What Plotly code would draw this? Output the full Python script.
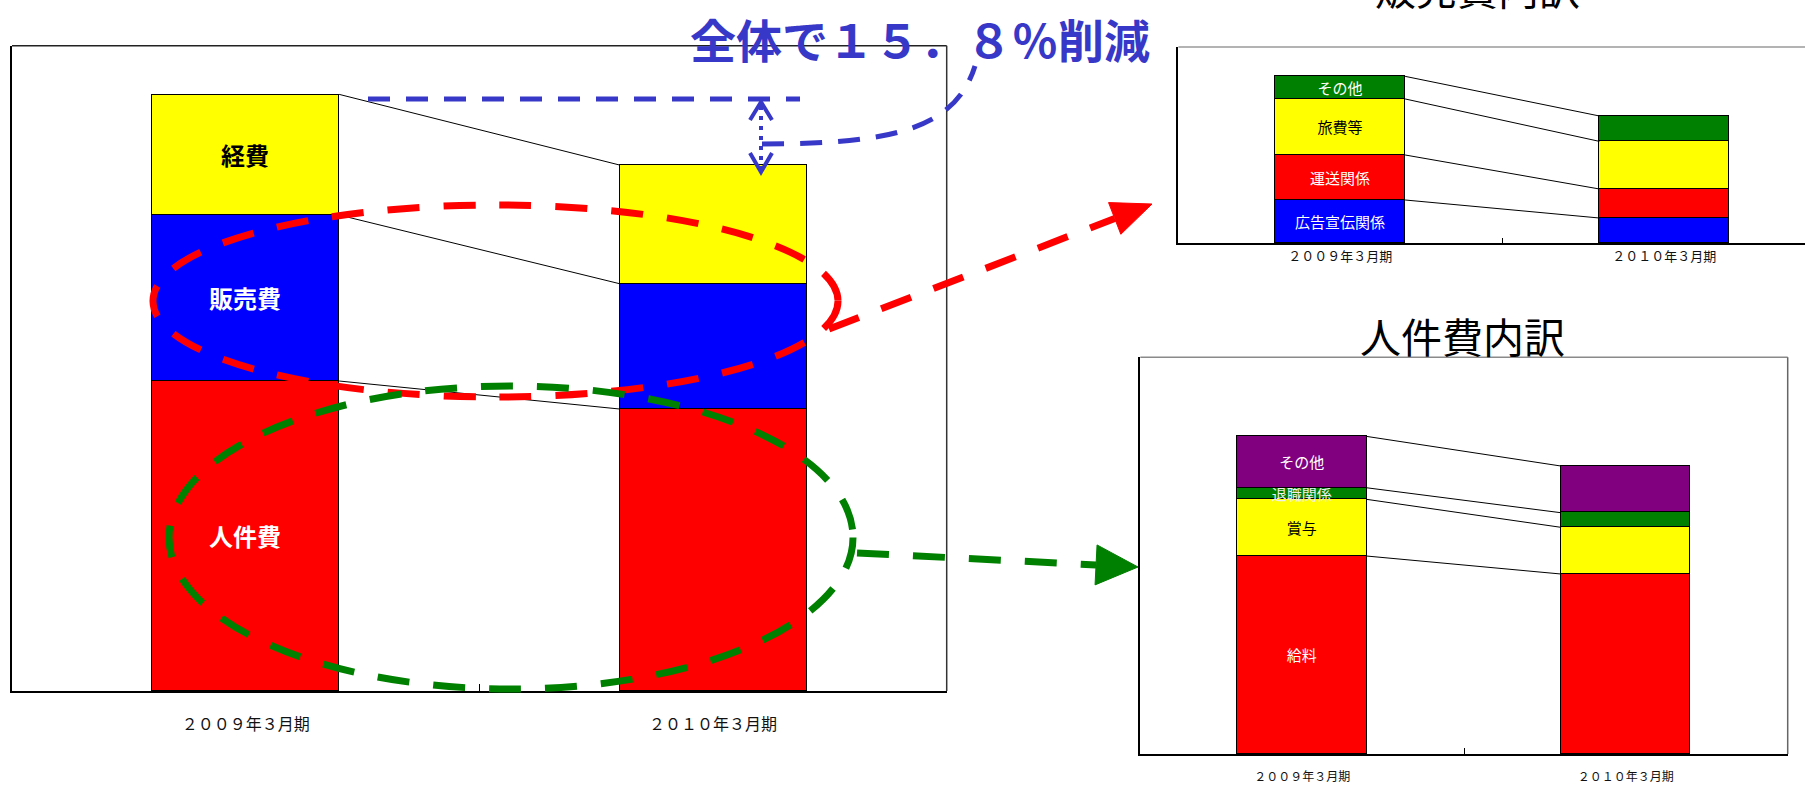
import math
import plotly.graph_objects as go

W, H = 1805, 786
FONT = "Noto Sans CJK JP"

# ---- data -------------------------------------------------------------
periods = ["２００９年３月期", "２０１０年３月期"]

# 全体 (main chart)
jinkenhi = [480.4, 437.0]   # 人件費
hanbaihi = [257.2, 194.2]   # 販売費
keihi = [187.0, 183.9]      # 経費

# 販売費内訳
sales_ad = [66.4, 38.6]        # 広告宣伝関係
sales_freight = [69.5, 44.8]   # 運送関係
sales_travel = [86.5, 73.5]    # 旅費等
sales_other = [34.9, 39.2]     # その他

# 人件費内訳
pay_salary = [299.4, 272.2]    # 給料
pay_bonus = [85.7, 70.6]       # 賞与
pay_retire = [17.5, 22.1]      # 退職関係
pay_other = [77.7, 70.6]       # その他

RED, BLUE, YELLOW, GREEN, PURPLE = "#FF0000", "#0000FF", "#FFFF00", "#008000", "#800080"
ANNOT_BLUE = "#3838C8"


def px(x):
    return x / W


def py(y):
    return 1 - y / H


fig = go.Figure()
shapes = []
annotations = []


def add_stack(axis_id, series, label_size, bold=False):
    xa = "x" if axis_id == 1 else f"x{axis_id}"
    ya = "y" if axis_id == 1 else f"y{axis_id}"
    cum0, cum1 = 0.0, 0.0
    for name, values, color, txt_color in series:
        label = f"<b>{name}</b>" if bold else name
        fig.add_trace(go.Bar(
            x=[0, 1], y=values, width=0.4,
            marker=dict(color=color, line=dict(color="black", width=1)),
            text=[label, ""], textposition="inside", insidetextanchor="middle",
            textangle=0, constraintext="none", cliponaxis=False,
            textfont=dict(family=FONT, size=label_size, color=txt_color),
            xaxis=xa, yaxis=ya, hoverinfo="skip", showlegend=False,
        ))
        cum0 += values[0]
        cum1 += values[1]
        # connector from the first bar's segment top to the second bar's
        shapes.append(dict(type="line", xref=xa, yref=ya, x0=0.2, x1=0.8,
                           y0=cum0, y1=cum1, layer="above",
                           line=dict(color="black", width=1)))


add_stack(1, [("人件費", jinkenhi, RED, "white"),
              ("販売費", hanbaihi, BLUE, "white"),
              ("経費", keihi, YELLOW, "black")], 24, bold=True)
add_stack(2, [("広告宣伝関係", sales_ad, BLUE, "white"),
              ("運送関係", sales_freight, RED, "white"),
              ("旅費等", sales_travel, YELLOW, "black"),
              ("その他", sales_other, GREEN, "white")], 15)
add_stack(3, [("給料", pay_salary, RED, "white"),
              ("賞与", pay_bonus, YELLOW, "black"),
              ("退職関係", pay_retire, GREEN, "#F0F0F0"),
              ("その他", pay_other, PURPLE, "white")], 15)


def xaxis(domain, rng, tick_size, standoff, ticklen):
    return dict(domain=domain, range=rng, tickmode="array", tickvals=[0, 1],
                ticktext=periods, ticks="", showgrid=False, zeroline=False,
                showline=True, linecolor="black", linewidth=1.5,
                tickfont=dict(family=FONT, size=tick_size, color="#111"),
                ticklabelstandoff=standoff, fixedrange=True,
                minor=dict(tickmode="array", tickvals=[0.5], ticks="inside",
                           ticklen=ticklen, tickcolor="black", tickwidth=1,
                           showgrid=False))


def yaxis(domain, top, anchor):
    return dict(domain=domain, range=[0, top], showticklabels=False, ticks="",
                showgrid=False, zeroline=False, showline=True,
                linecolor="black", linewidth=1.5, anchor=anchor, fixedrange=True)


# frame edges not covered by the axis lines
def frame(axis_id, top_color, right_color=None):
    xr = "x domain" if axis_id == 1 else f"x{axis_id} domain"
    yr = "y domain" if axis_id == 1 else f"y{axis_id} domain"
    shapes.append(dict(type="line", xref=xr, yref=yr, x0=0, x1=1, y0=1, y1=1,
                       line=dict(color=top_color, width=1.5)))
    if right_color:
        shapes.append(dict(type="line", xref=xr, yref=yr, x0=1, x1=1, y0=0, y1=1,
                           line=dict(color=right_color, width=1.5)))


frame(1, "#222", "#333")
frame(2, "#9a9a9a")
frame(3, "#8a8a8a", "#666")

# ---- callouts ---------------------------------------------------------
def dashed_arrow(p0, tip, color, length, half_w, width=7):
    dx, dy = tip[0] - p0[0], tip[1] - p0[1]
    d = math.hypot(dx, dy)
    ux, uy = dx / d, dy / d
    bx, by = tip[0] - length * ux, tip[1] - length * uy
    nx, ny = -uy, ux
    shapes.append(dict(type="line", xref="paper", yref="paper",
                       x0=px(p0[0]), y0=py(p0[1]), x1=px(bx), y1=py(by),
                       line=dict(color=color, width=width, dash="32px,24px")))
    pts = [tip, (bx + half_w * nx, by + half_w * ny), (bx - half_w * nx, by - half_w * ny)]
    path = "M " + " L ".join(f"{px(x)},{py(y)}" for x, y in pts) + " Z"
    shapes.append(dict(type="path", xref="paper", yref="paper", path=path,
                       fillcolor=color, line=dict(color=color, width=1)))


# red ellipse around 販売費, green ellipse around 人件費
shapes.append(dict(type="circle", xref="paper", yref="paper",
                   x0=px(153), x1=px(838), y0=py(397), y1=py(205),
                   line=dict(color=RED, width=7, dash="32px,24px")))
shapes.append(dict(type="circle", xref="paper", yref="paper",
                   x0=px(169), x1=px(853), y0=py(689), y1=py(386),
                   line=dict(color=GREEN, width=7, dash="32px,24px")))
dashed_arrow((829, 329), (1152, 204), RED, 40, 17)
dashed_arrow((857, 553), (1138, 567), GREEN, 42, 20)

# blue reference line at the 2009 total and the double arrow down to 2010
shapes.append(dict(type="line", xref="paper", yref="paper",
                   x0=px(368), x1=px(800), y0=py(99), y1=py(99),
                   line=dict(color=ANNOT_BLUE, width=5, dash="22px,16px")))
shapes.append(dict(type="line", xref="paper", yref="paper",
                   x0=px(761), x1=px(761), y0=py(106), y1=py(168),
                   line=dict(color=ANNOT_BLUE, width=4, dash="4px,6px")))
for pts in ([(750, 120), (761, 102), (772, 120)], [(750, 153), (761, 172), (772, 153)]):
    path = "M " + " L ".join(f"{px(x)},{py(y)}" for x, y in pts)
    shapes.append(dict(type="path", xref="paper", yref="paper", path=path,
                       line=dict(color=ANNOT_BLUE, width=4)))
curve = (f"M {px(762)},{py(144)} C {px(890)},{py(144)} "
         f"{px(955)},{py(130)} {px(975)},{py(66)}")
shapes.append(dict(type="path", xref="paper", yref="paper", path=curve,
                   line=dict(color=ANNOT_BLUE, width=5, dash="22px,16px")))

annotations.append(dict(text="<b>全体で１５．８％削減</b>", xref="paper", yref="paper",
                        x=px(920), y=py(38), xanchor="center", yanchor="middle",
                        showarrow=False,
                        font=dict(family=FONT, size=46, color=ANNOT_BLUE)))
annotations.append(dict(text="販売費内訳", xref="paper", yref="paper",
                        x=px(1477), y=py(-13), xanchor="center", yanchor="middle",
                        showarrow=False, font=dict(family=FONT, size=41, color="black")))
annotations.append(dict(text="人件費内訳", xref="paper", yref="paper",
                        x=px(1462), y=py(335), xanchor="center", yanchor="middle",
                        showarrow=False, font=dict(family=FONT, size=41, color="black")))

fig.update_layout(
    width=W, height=H, margin=dict(l=0, r=0, t=0, b=0, autoexpand=False),
    paper_bgcolor="white", plot_bgcolor="white", barmode="stack", bargap=0,
    showlegend=False,
    xaxis=xaxis([px(12), px(946.7)], [-0.5, 1.5], 16, 18, 7),
    yaxis=yaxis([py(691), py(45.7)], 1000, "x"),
    xaxis2=xaxis([px(1178.4), 1.0], [-0.5, 1.435], 13, 1, 5),
    yaxis2=yaxis([py(243), py(47)], 302.6, "x2"),
    xaxis3=xaxis([px(1140.3), px(1787.7)], [-0.5, 1.5], 12, 11, 6),
    yaxis3=yaxis([py(754), py(357.3)], 600, "x3"),
    shapes=shapes, annotations=annotations,
)
fig.update_layout(xaxis2_anchor="y2", xaxis3_anchor="y3", xaxis_anchor="y")

fig.write_html("out.html")
